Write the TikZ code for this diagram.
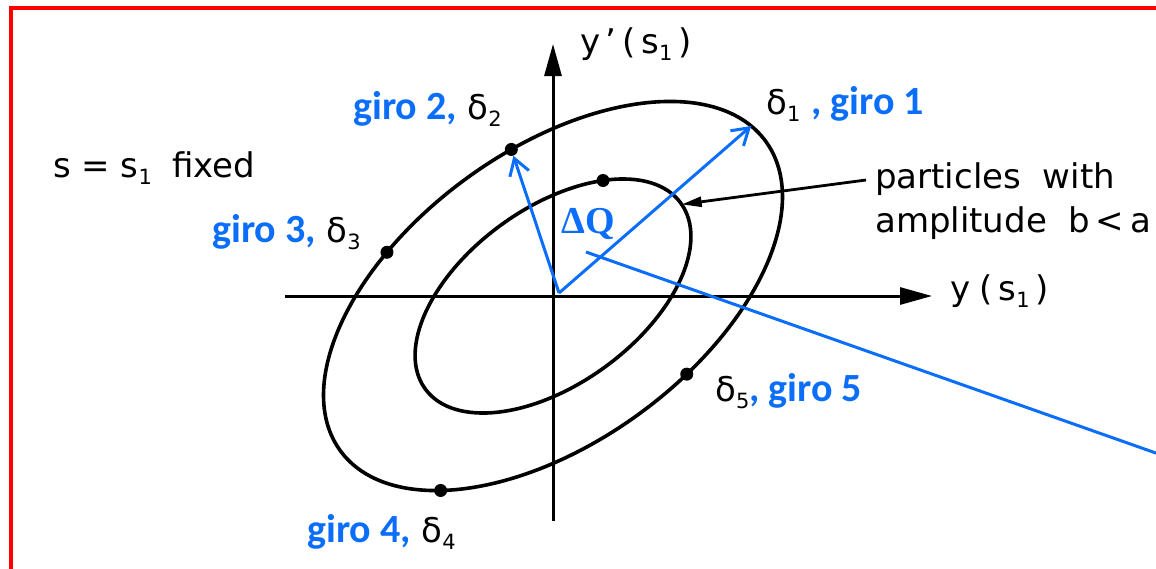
\documentclass[tikz,border=0pt]{standalone}
\usepackage{fontspec}
\setmainfont{DejaVu Sans}
\newfontfamily\blufont{Carlito}
\newfontfamily\dqfont{Liberation Serif}
\usetikzlibrary{arrows.meta}
\definecolor{giroblue}{RGB}{10,110,250}
\definecolor{bordred}{RGB}{255,0,0}
\newcommand{\lowsub}[1]{\raisebox{-0.22em}{\fontsize{21}{21}\selectfont #1}}
\newcommand{\gb}[1]{{\blufont\bfseries\color{giroblue}#1}}
\begin{document}
\begin{tikzpicture}[x=1pt,y=1pt,
  curve/.style={line width=3.6pt},
  axis/.style={line width=3pt,-{Triangle[length=32pt,width=17pt]}},
  dot/.style={circle,fill=black,inner sep=0pt,minimum size=13pt},
  bluearrow/.style={giroblue,line width=3pt,-{Straight Barb[length=16pt,width=20pt,line width=3pt]}},
  blueline/.style={giroblue,line width=3pt},
  lbl/.style={anchor=base west,inner sep=0pt,font=\fontsize{34}{40}\selectfont}]
\useasboundingbox (0,0) rectangle (1156,-568);
% red frame
\draw[bordred,line width=4pt] (10.5,-620) -- (10.5,-7.5) -- (1200,-7.5);
% axes
\coordinate (xl) at (285,-296);
\coordinate (xr) at (932,-296);
\coordinate (yb) at (553,-521);
\coordinate (yt) at (553,-44);
\draw[axis] (xl) -- (xr);
\draw[axis] (yb) -- (yt);
% ellipses
\begin{scope}[shift={(553,-296)},rotate=36]
  \draw[curve] (0,0) ellipse [x radius=263pt, y radius=146pt];
  \draw[curve] (0,0) ellipse [x radius=158pt, y radius=88pt];
  \coordinate (d1) at ({263*cos(8.3)},{146*sin(8.3)});
  \coordinate (d2) at ({263*cos(78.5)},{146*sin(78.5)});
  \coordinate (d3) at ({263*cos(114.4)},{146*sin(114.4)});
  \coordinate (d4) at ({263*cos(218.7)},{146*sin(218.7)});
  \coordinate (d5) at ({263*cos(283.7)},{146*sin(283.7)});
  \coordinate (di) at ({158*cos(46.7)},{88*sin(46.7)});
  \coordinate (ip) at ({158*cos(-1)},{88*sin(-1)});
\end{scope}
\node[dot] (p2) at (d2) {};
\node[dot] (p3) at (d3) {};
\node[dot] (p4) at (d4) {};
\node[dot] (p5) at (d5) {};
\node[dot] (pi) at (di) {};
% blue vectors
\coordinate (bo) at (559,-293);
\draw[bluearrow] (bo) -- (d1);
\draw[bluearrow] (bo) -- (p2);
\coordinate (q1) at (586,-252);
\coordinate (q2) at (1170,-458);
\draw[blueline] (q1) -- (q2);
% pointer
\coordinate (ls) at (866,-180);
\draw[line width=2.8pt,-{Triangle[length=20pt,width=10pt]}] (ls) -- (ip);
% labels
\node[lbl] (yp) at (580,-53) {y\,'\,(\,s\lowsub{1}\,)};
\node[lbl] (yx) at (950,-300) {y\;(\,s\lowsub{1}\,)};
\node[lbl] (sfix) at (53,-177) {s = s\lowsub{1}\;\ fixed};
\node[lbl] (pw) at (875,-188) {particles\ \ with};
\node[lbl] (amp) at (875,-232) {amplitude\ \ b\,<\,a};
\node[lbl] (g1) at (766,-114) {δ\lowsub{1}\ \gb{\fontsize{40}{44}\selectfont , giro 1}};
\node[lbl] (g2) at (353,-119) {\gb{\fontsize{40}{44}\selectfont giro 2,} δ\lowsub{2}};
\node[lbl] (g3) at (212,-242) {\gb{\fontsize{40}{44}\selectfont giro 3,} δ\lowsub{3}};
\node[lbl] (g4) at (307,-542) {\gb{\fontsize{40}{44}\selectfont giro 4,} δ\lowsub{4}};
\node[lbl] (g5) at (715,-401) {δ\lowsub{5}\gb{\fontsize{40}{44}\selectfont , giro 5}};
\node[lbl] (dq) at (561,-233) {\dqfont\bfseries\fontsize{38}{40}\selectfont\color{giroblue}ΔQ};
\end{tikzpicture}
\end{document}
